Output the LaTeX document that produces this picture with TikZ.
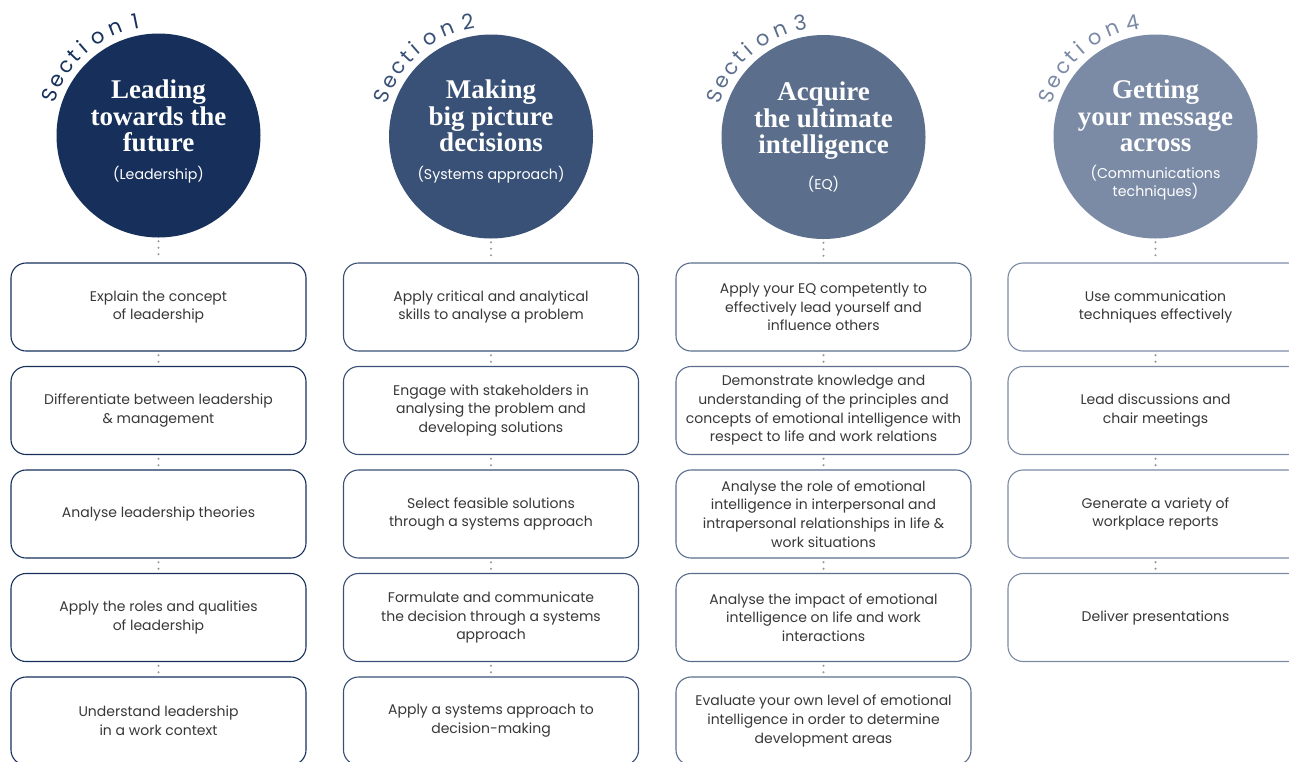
\documentclass[tikz,border=0pt]{standalone}
\usepackage{fontspec}
\setmainfont{Liberation Serif}
\newfontfamily\bodyfont{Poppins}
\usetikzlibrary{calc}
\definecolor{cone}{HTML}{17305B}
\definecolor{ctwo}{HTML}{3A5177}
\definecolor{cthree}{HTML}{5B6F8D}
\definecolor{cfour}{HTML}{7B8BA6}
\definecolor{textgray}{HTML}{383838}
\definecolor{dotgray}{HTML}{9A9590}
\tikzset{
  x=1pt, y=1pt,
  headcircle/.style={circle, minimum size=204pt, inner sep=0pt, fill=#1},
  titletext/.style={text=white, align=center, font=\bfseries\fontsize{27}{26.5}\selectfont},
  subtext/.style={text=white, align=center, font=\bodyfont\fontsize{14.2}{18}\selectfont},
  stepbox/.style={draw=#1, rounded corners=15pt, line width=1.1pt, minimum width=295pt, minimum height=88pt,
     align=center, text=textgray, inner sep=2pt, font=\bodyfont\fontsize{14}{18.7}\selectfont},
  dotline/.style={draw=dotgray, line width=2.3pt, line cap=round, dash pattern=on 0pt off 6.5pt, shorten <=3.6pt, shorten >=3.6pt},
  secletter/.style={text=#1, anchor=base, inner sep=0pt, font=\bodyfont\fontsize{21}{21}\selectfont},
}
\newcommand{\sectionarc}[3]{%
  \foreach \ch/\a in {S/159.5, e/151.5, c/143.5, t/136.5, i/131, o/122, n/112, #2/101.5}{
    \node[secletter=#3, rotate=\a-90] at ($(#1)+(\a:109)$) {\ch};
  }%
}
\begin{document}
\begin{tikzpicture}
\clip (0,0) rectangle (1289,-761);
\fill[white] (0,0) rectangle (1289,-761);

% circles
\node[headcircle=cone]   (c1) at (158.5,-135.5) {};
\node[headcircle=ctwo]   (c2) at (491,-136.5) {};
\node[headcircle=cthree] (c3) at (823.5,-137) {};
\node[headcircle=cfour]  (c4) at (1155.5,-136.5) {};

\sectionarc{c1}{1}{cone}
\sectionarc{c2}{2}{ctwo}
\sectionarc{c3}{3}{cthree}
\sectionarc{c4}{4}{cfour}

% titles
\node[titletext] (t1) at (158.5,-116) {Leading\\towards the\\future};
\node[subtext]   (s1) at (158.5,-175) {(Leadership)};
\node[titletext] (t2) at (491,-116) {Making\\big picture\\decisions};
\node[subtext]   (s2) at (491,-175) {(Systems approach)};
\node[titletext] (t3) at (823.5,-121) {Acquire\\the ultimate\\intelligence};
\node[subtext]   (s3) at (823.5,-184) {(EQ)};
\node[titletext] (t4) at (1155.5,-116) {Getting\\your message\\across};
\node[subtext]   (s4) at (1155.5,-183) {(Communications\\techniques)};

% boxes column 1
\node[stepbox=cone] (b11) at (158.5,-307) {Explain the concept\\of leadership};
\node[stepbox=cone] (b12) at (158.5,-410.5) {Differentiate between leadership\\\& management};
\node[stepbox=cone] (b13) at (158.5,-514) {Analyse leadership theories};
\node[stepbox=cone] (b14) at (158.5,-617.5) {Apply the roles and qualities\\of leadership};
\node[stepbox=cone] (b15) at (158.5,-721) {Understand leadership\\in a work context};

% column 2
\node[stepbox=ctwo] (b21) at (491,-307) {Apply critical and analytical\\skills to analyse a problem};
\node[stepbox=ctwo] (b22) at (491,-410.5) {Engage with stakeholders in\\analysing the problem and\\developing solutions};
\node[stepbox=ctwo] (b23) at (491,-514) {Select feasible solutions\\through a systems approach};
\node[stepbox=ctwo] (b24) at (491,-617.5) {Formulate and communicate\\the decision through a systems\\approach};
\node[stepbox=ctwo] (b25) at (491,-721) {Apply a systems approach to\\decision-making};

% column 3
\node[stepbox=cthree] (b31) at (823.5,-307) {Apply your EQ competently to\\effectively lead yourself and\\influence others};
\node[stepbox=cthree] (b32) at (823.5,-410.5) {Demonstrate knowledge and\\understanding of the principles and\\concepts of emotional intelligence with\\respect to life and work relations};
\node[stepbox=cthree] (b33) at (823.5,-514) {Analyse the role of emotional\\intelligence in interpersonal and\\intrapersonal relationships in life \&\\work situations};
\node[stepbox=cthree] (b34) at (823.5,-617.5) {Analyse the impact of emotional\\intelligence on life and work\\interactions};
\node[stepbox=cthree] (b35) at (823.5,-721) {Evaluate your own level of emotional\\intelligence in order to determine\\development areas};

% column 4
\node[stepbox=cfour] (b41) at (1155.5,-307) {Use communication\\techniques effectively};
\node[stepbox=cfour] (b42) at (1155.5,-410.5) {Lead discussions and\\chair meetings};
\node[stepbox=cfour] (b43) at (1155.5,-514) {Generate a variety of\\workplace reports};
\node[stepbox=cfour] (b44) at (1155.5,-617.5) {Deliver presentations};

% dotted connectors
\foreach \c in {1,2,3,4}{
  \draw[dotline] (c\c.south) -- (b\c1.north);
}
\foreach \c/\n in {1/5,2/5,3/5,4/4}{
  \foreach \i [remember=\i as \j (initially 1)] in {2,...,\n}{
    \draw[dotline] (b\c\j.south) -- (b\c\i.north);
  }
}
\end{tikzpicture}
\end{document}
